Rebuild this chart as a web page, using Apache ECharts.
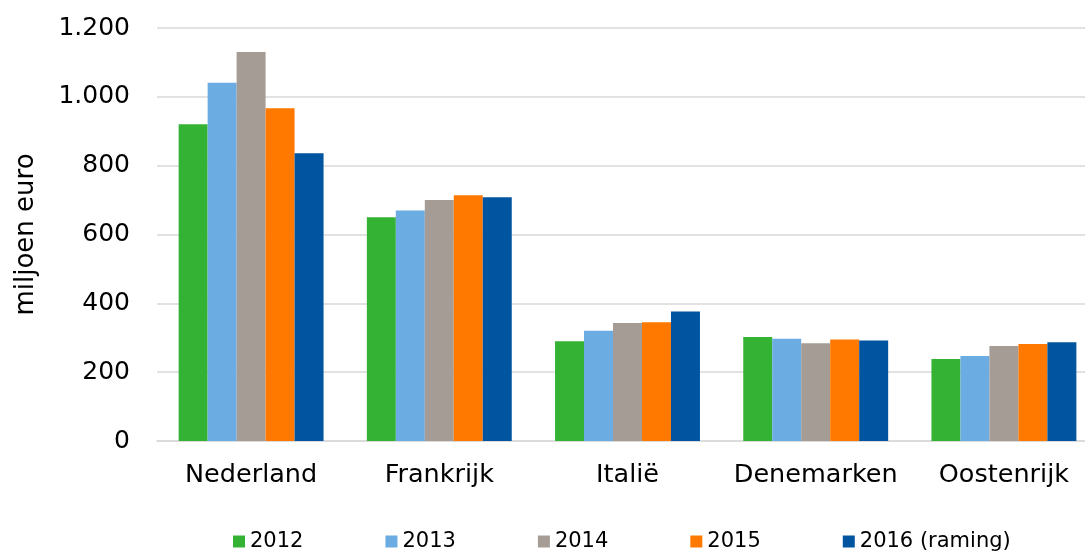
<!DOCTYPE html>
<html><head><meta charset="utf-8">
<script src="https://cdn.jsdelivr.net/npm/echarts@6/dist/echarts.min.js"></script>
<style>html,body{margin:0;padding:0;background:#fff}#c{width:1085px;height:552px}</style>
</head><body><div id="c"></div>
<script>
const categories = ['Nederland', 'Frankrijk', 'Italië', 'Denemarken', 'Oostenrijk'];
const seriesNames = ['2012', '2013', '2014', '2015', '2016 (raming)'];
const v2012 = [920, 650, 290, 302, 238];
const v2013 = [1041, 670, 320, 297, 247];
const v2014 = [1130, 700, 343, 284, 276];
const v2015 = [967, 714, 345, 295, 282];
const v2016 = [836, 708, 376, 292, 287];
const yTicks = [0, 200, 400, 600, 800, 1000, 1200];
const colors = ['#34B233', '#6BACE2', '#A59D95', '#FF7900', '#01549F'];
const values = [v2012, v2013, v2014, v2015, v2016];

const chart = echarts.init(document.getElementById('c'));
chart.setOption({
  animation: false,
  grid: {left: 157, width: 941, top: 28, bottom: 111, outerBoundsMode: 'none'},
  legend: {
    top: 526, left: 228,
    itemWidth: 12, itemHeight: 12, itemGap: 82,
    icon: 'rect',
    textStyle: {fontFamily: 'DejaVu Sans', fontSize: 21, color: '#000'},
    data: seriesNames
  },
  xAxis: {
    type: 'category', data: categories,
    axisTick: {show: false},
    axisLine: {lineStyle: {color: '#d9d9d9', width: 1.5}},
    axisLabel: {fontFamily: 'DejaVu Sans', fontSize: 25.5, color: '#000', margin: 21, interval: 0}
  },
  yAxis: {
    type: 'value', min: yTicks[0], max: yTicks[yTicks.length-1], interval: 200,
    name: 'miljoen euro', nameLocation: 'middle', nameGap: 118, nameRotate: 90,
    nameTextStyle: {fontFamily: 'DejaVu Sans', fontSize: 26, color: '#000'},
    axisLine: {show: false}, axisTick: {show: false},
    splitLine: {lineStyle: {color: '#d9d9d9', width: 1.5}},
    axisLabel: {fontFamily: 'DejaVu Sans', fontSize: 25, color: '#000', margin: 27,
      formatter: v => String(v).replace(/\B(?=(\d{3})+(?!\d))/g, '.')}
  },
  series: seriesNames.map((n, i) => ({
    name: n, type: 'bar', data: values[i], barGap: '0%', barCategoryGap: '23%',
    itemStyle: {color: colors[i]}
  }))
});
</script></body></html>
